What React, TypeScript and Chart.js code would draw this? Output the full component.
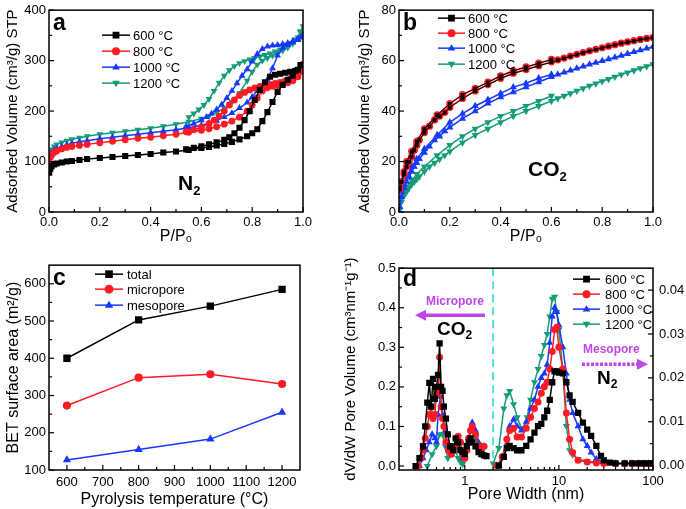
import React, { useEffect, useRef } from 'react';
import { Chart, registerables } from 'chart.js';
Chart.register(...registerables);

const FONT = "'Liberation Sans', Arial, Helvetica, sans-serif";

// ---------- shared series styling ----------
const tempLabels = ['600 °C', '800 °C', '1000 °C', '1200 °C'];
const seriesColors = ['#000000', '#ff1a24', '#1638ff', '#139c78'];
const seriesMarkers = ['rect', 'circle', 'triangle', 'down'];

// ---------- panel a: N2 isotherms (adsorption then desorption) ----------
const n2P600 = [0.001,0.005,0.01,0.02,0.03,0.05,0.07,0.09,0.12,0.15,0.2,0.25,0.3,0.35,0.4,0.45,0.5,0.55,0.6,0.63,0.66,0.69,0.72,0.75,0.78,0.8,0.82,0.84,0.86,0.88,0.9,0.92,0.94,0.96,0.98,0.99,
  0.97,0.95,0.93,0.91,0.89,0.87,0.85,0.83,0.81,0.79,0.77,0.75,0.73,0.71,0.69,0.66,0.63,0.6,0.57,0.54];
const n2V600 = [78,86,91,94,96,98,100,101,103,105,107,109,111,113,115,118,120,123,127,129,132,135,139,144,150,156,164,180,198,218,238,252,262,270,282,291,
  280,278,276,274,272,268,257,242,222,200,182,167,156,148,143,138,134,130,127,124];
const n2P800 = [0.001,0.005,0.01,0.02,0.03,0.05,0.07,0.09,0.12,0.15,0.2,0.25,0.3,0.35,0.4,0.45,0.5,0.55,0.6,0.63,0.66,0.69,0.72,0.75,0.78,0.8,0.82,0.84,0.86,0.88,0.9,0.92,0.94,0.96,0.98,0.99,1.0,
  0.99,0.97,0.95,0.93,0.91,0.89,0.87,0.85,0.83,0.81,0.79,0.77,0.75,0.73,0.71,0.69,0.67,0.65,0.63,0.6,0.57,0.54];
const n2V800 = [98,108,113,118,121,125,128,130,132,134,137,140,143,146,148,151,154,158,162,165,169,174,180,188,200,212,226,240,246,249,251,253,256,260,268,280,293,
  278,270,264,260,257,255,253,251,249,246,242,237,231,222,212,200,190,182,175,168,163,159];
const n2P1000 = [0.001,0.005,0.01,0.02,0.03,0.05,0.07,0.09,0.12,0.15,0.2,0.25,0.3,0.35,0.4,0.45,0.5,0.55,0.6,0.63,0.66,0.69,0.72,0.75,0.78,0.8,0.82,0.84,0.86,0.88,0.9,0.92,0.94,0.96,0.98,0.99,1.0,
  0.98,0.96,0.94,0.92,0.9,0.88,0.86,0.84,0.82,0.8,0.78,0.76,0.74,0.72,0.7,0.68,0.66,0.64,0.62,0.6,0.57,0.54];
const n2V1000 = [100,112,117,122,126,130,133,136,139,141,145,148,151,154,157,160,163,167,172,176,181,188,196,206,217,228,240,250,262,285,310,325,331,336,341,346,352,
  343,339,335,333,331,330,328,323,313,298,283,270,255,240,226,213,203,195,188,182,175,170];
const n2P1200 = [0.001,0.005,0.01,0.02,0.03,0.05,0.07,0.09,0.12,0.15,0.2,0.25,0.3,0.35,0.4,0.45,0.5,0.55,0.6,0.63,0.66,0.69,0.72,0.75,0.78,0.8,0.82,0.84,0.86,0.88,0.9,0.92,0.94,0.96,0.98,0.99,1.0,
  0.99,0.97,0.95,0.93,0.91,0.89,0.87,0.85,0.83,0.81,0.79,0.77,0.75,0.73,0.71,0.69,0.67,0.65,0.63,0.61,0.59,0.57,0.55];
const n2V1200 = [105,118,124,130,134,138,141,144,147,150,154,157,160,163,166,170,174,179,185,190,197,206,218,236,260,278,292,300,305,310,315,320,326,334,346,358,368,
  356,342,334,328,322,318,314,311,308,305,302,299,295,289,281,270,256,240,224,212,203,195,188];

// ---------- panel b: CO2 isotherms ----------
const co2PAds = [0.003,0.01,0.02,0.03,0.04,0.05,0.06,0.07,0.08,0.1,0.12,0.14,0.16,0.18,0.2,0.25,0.3,0.35,0.4,0.45,0.5,0.55,0.6,0.625,0.65,0.675,0.7,0.725,0.75,0.775,0.8,0.825,0.85,0.875,0.9,0.925,0.95,0.975,1.0];
const co2PDes = [0.6,0.55,0.5,0.45,0.4,0.35,0.3,0.25,0.2,0.15,0.1,0.07,0.05,0.03,0.02,0.01];
const co2Ads600 = [8.9,11.9,14.9,17.9,19.9,21.9,24.4,26.4,28.4,31.4,33.9,36.4,37.9,39.4,41.4,44.9,47.9,50.4,52.9,54.9,56.4,57.9,59.4,60.2,60.9,61.7,62.4,63.1,63.8,64.4,65,65.6,66.2,66.8,67.3,67.8,68.3,68.7,69.1];
const co2Des600 = [60.4,58.9,57.4,55.9,53.9,51.4,48.9,46.4,42.9,38.4,32.9,27.9,23.9,19.9,15.9,11.9];
const co2Ads800 = [9,12,15,18,20,22,24.5,26.5,28.5,31.5,34,36.5,38,39.5,41.5,45,48,50.5,53,55,56.5,58,59.5,60.3,61,61.8,62.5,63.2,63.9,64.5,65.1,65.7,66.3,66.9,67.4,67.9,68.4,68.8,69.2];
const co2Des800 = [60.5,59,57.5,56,54,51.5,49,46.5,43,38.5,33,28,24,20,16,12];
const co2Ads1000 = [2,6,9.5,12,14,16,18,19.5,21,23.5,26,28.5,30,32,33.5,37,40,43,45.5,47.5,49.5,51.5,53.5,54.5,55.3,56.1,56.9,57.7,58.5,59.2,59.9,60.6,61.3,62,62.7,63.4,64.1,64.8,65.5];
const co2Des1000 = [54.5,53,51,49.5,47,44.5,42,39,35.5,30.5,25,21,18,14,11,8];
const co2Ads1200 = [1,4,6.5,8,9.5,11,12,13,14,16,18,19.5,21,22.5,24,27.5,30.5,33,35.5,38,40,42,44,45,46,47,48,49,50,50.9,51.8,52.7,53.6,54.5,55.3,56.1,56.9,57.7,58.5];
const co2Des1200 = [46,44,42,40,38,35.5,33,30,26.5,22.5,18,15,12.5,10,8,6];

// ---------- panel c: BET surface area ----------
const betLabels = ['total', 'micropore', 'mesopore'];
const betTemps = [600, 800, 1000, 1200];
const betTotal = [400, 503, 540, 585];
const betMicro = [273, 348, 357, 331];
const betMeso = [127, 155, 183, 255];

// ---------- panel d: pore size distribution ----------
const microW600 = [0.3,0.33,0.36,0.38,0.4,0.42,0.44,0.46,0.48,0.5,0.52,0.54,0.56,0.58,0.6,0.63,0.66,0.7,0.75,0.8,0.85,0.9,0.95,1.0,1.05,1.1,1.15,1.2,1.3,1.4,1.5,1.6,1.7];
const microV600 = [0,0.02,0.05,0.1,0.16,0.21,0.15,0.22,0.17,0.2,0.23,0.31,0.2,0.19,0.15,0.12,0.08,0.05,0.04,0.07,0.06,0.04,0.035,0.03,0.05,0.06,0.07,0.06,0.05,0.035,0.03,0.027,0.025];
const microW800 = [0.32,0.34,0.36,0.38,0.4,0.42,0.44,0.46,0.48,0.5,0.52,0.54,0.56,0.58,0.6,0.63,0.67,0.72,0.78,0.85,0.9,0.95,1.0,1.05,1.1,1.15,1.2,1.3,1.4,1.5,1.6];
const microV800 = [0,0.02,0.04,0.07,0.1,0.13,0.15,0.12,0.13,0.18,0.19,0.275,0.15,0.12,0.1,0.06,0.04,0.03,0.05,0.075,0.06,0.03,0.02,0.04,0.07,0.09,0.1,0.08,0.05,0.045,0.05];
const microW1000 = [0.33,0.36,0.39,0.42,0.45,0.48,0.5,0.52,0.55,0.58,0.62,0.66,0.72,0.8,0.85,0.9,0.95,1.0,1.1,1.2,1.3,1.4,1.5,1.6];
const microV1000 = [0,0.02,0.04,0.06,0.08,0.07,0.06,0.13,0.175,0.13,0.09,0.05,0.03,0.05,0.06,0.04,0.02,0.03,0.07,0.11,0.09,0.06,0.05,0.05];
const microW1200 = [0.4,0.45,0.5,0.54,0.58,0.62,0.66,0.7,0.75,0.8,0.85,0.9,0.95,1.0,1.05,1.1,1.2,1.3,1.4,1.5,1.6];
const microV1200 = [0,0.03,0.05,0.08,0.08,0.05,0.02,0.03,0.05,0.04,0.02,0.01,0.005,0.02,0.05,0.07,0.1,0.07,0.05,0.045,0.045];

const mesoW600 = [2.3,2.6,2.8,3.0,3.3,3.6,4.0,4.5,5,5.5,6,6.5,7,7.5,8,8.5,9,9.5,10,11,12,13,14,16,18,20,22,25,28,30,35,40,50,60,70,80,90,100];
const mesoV600 = [0,0.002,0.004,0.0045,0.004,0.0035,0.0035,0.0045,0.006,0.0075,0.009,0.0095,0.011,0.0125,0.015,0.019,0.0215,0.0215,0.0212,0.021,0.019,0.016,0.0145,0.012,0.0098,0.0082,0.0068,0.0045,0.0022,0.0012,0.0007,0.0005,0.0005,0.0005,0.0005,0.0005,0.0005,0.0005];
const mesoW800 = [2.2,2.5,2.8,3.0,3.3,3.6,4.0,4.5,5,5.5,6,6.5,7,7.5,8,8.5,9,9.5,10,11,12,13,14,16,20,25,30,40,50,60,70,80,90,100];
const mesoV800 = [0,0.002,0.006,0.008,0.0085,0.0065,0.0065,0.0085,0.011,0.013,0.0145,0.0165,0.018,0.019,0.022,0.026,0.031,0.0315,0.027,0.022,0.012,0.006,0.003,0.0012,0.0008,0.0006,0.0005,0.0005,0.0005,0.0005,0.0005,0.0005,0.0005,0.0005];
const mesoW1000 = [2.3,2.6,2.8,3.0,3.3,3.6,4.0,4.5,5,5.5,6,6.5,7,7.5,8,8.5,9,9.5,10,11,12,13,14,16,18,20,22,25,30,40,50,60,70,80,90,100];
const mesoV1000 = [0,0.002,0.005,0.009,0.0105,0.009,0.008,0.01,0.013,0.015,0.018,0.02,0.021,0.023,0.028,0.034,0.036,0.035,0.032,0.027,0.021,0.015,0.012,0.009,0.006,0.0045,0.003,0.0015,0.0008,0.0005,0.0005,0.0005,0.0005,0.0005,0.0005,0.0005];
const mesoW1200 = [2.0,2.3,2.6,2.8,3.0,3.3,3.6,4.0,4.3,4.6,5,5.5,6,6.5,7,7.5,8,8.5,9,9.5,10,11,12,13,14,16,20,30,40,50,60,70,80,90,100];
const mesoV1200 = [0.0005,0.004,0.013,0.016,0.017,0.014,0.011,0.0085,0.0085,0.011,0.015,0.019,0.022,0.025,0.0275,0.03,0.034,0.038,0.0385,0.035,0.031,0.022,0.009,0.0035,0.0025,0.0015,0.001,0.0006,0.0005,0.0005,0.0005,0.0005,0.0005,0.0005,0.0005];

// ---------- tick values ----------
const pTicks = [0, 0.2, 0.4, 0.6, 0.8, 1.0];
const n2VolTicks = [0, 100, 200, 300, 400];
const co2VolTicks = [0, 20, 40, 60, 80];
const tempTicks = [600, 700, 800, 900, 1000, 1100, 1200];
const betTicks = [100, 200, 300, 400, 500, 600];
const widthTicks = [1, 10, 100];
const microTicks = [0, 0.1, 0.2, 0.3, 0.4, 0.5];
const mesoTicks = [0, 0.01, 0.02, 0.03, 0.04];
const poreDivider = 2;

// ---------- helpers ----------
type Pt = { x: number; y: number };
const zip = (xs: number[], ys: number[]): Pt[] => xs.map((x, i) => ({ x, y: ys[i] }));

function lineDs(data: Pt[], i: number, r: number, extra: any = {}) {
  const m = seriesMarkers[i];
  const rr = m === 'rect' ? r * 1.2 : m === 'circle' ? r * 0.95 : r * 1.1;
  return {
    data,
    borderColor: seriesColors[i],
    backgroundColor: seriesColors[i],
    borderWidth: 1.5,
    pointStyle: m === 'down' ? 'triangle' : m,
    pointRotation: m === 'down' ? 180 : 0,
    pointRadius: rr,
    pointHoverRadius: rr,
    pointBorderWidth: 0,
    tension: 0,
    fill: false,
    ...extra,
  };
}

function axis(o: {
  pos: 'left' | 'right' | 'bottom';
  type?: string;
  min: number;
  max: number;
  ticks: number[];
  fmt: (v: number) => string;
  title?: string;
  titleSize?: number;
  titlePad?: any;
  tickPad: number;
  size: number;
}) {
  return {
    type: o.type || 'linear',
    position: o.pos,
    min: o.min,
    max: o.max,
    afterBuildTicks: (s: any) => {
      s.ticks = o.ticks.map((v) => ({ value: v }));
    },
    afterFit: (s: any) => {
      if (o.pos === 'bottom') s.height = o.size;
      else s.width = o.size;
    },
    grid: { display: false, drawTicks: false },
    border: { display: false },
    ticks: {
      autoSkip: false,
      maxRotation: 0,
      minRotation: 0,
      padding: o.tickPad,
      color: '#000',
      font: { family: FONT, size: 13, lineHeight: 1.1 },
      callback: (v: any) => o.fmt(Number(v)),
    },
    title: {
      display: !!o.title,
      text: o.title || '',
      color: '#000',
      font: { family: FONT, size: o.titleSize || 15 },
      padding: o.titlePad || 0,
    },
  };
}

function drawMarker(ctx: CanvasRenderingContext2D, m: string, x: number, y: number, r: number, color: string) {
  ctx.save();
  ctx.fillStyle = color;
  ctx.beginPath();
  if (m === 'rect') {
    const s = r * 0.85;
    ctx.rect(x - s, y - s, 2 * s, 2 * s);
  } else if (m === 'circle') {
    ctx.arc(x, y, r, 0, Math.PI * 2);
  } else if (m === 'triangle') {
    ctx.moveTo(x, y - r);
    ctx.lineTo(x + r * 0.95, y + r * 0.6);
    ctx.lineTo(x - r * 0.95, y + r * 0.6);
    ctx.closePath();
  } else {
    ctx.moveTo(x, y + r);
    ctx.lineTo(x + r * 0.95, y - r * 0.6);
    ctx.lineTo(x - r * 0.95, y - r * 0.6);
    ctx.closePath();
  }
  ctx.fill();
  ctx.restore();
}

type Part = [string, number, number, boolean];
function drawRich(ctx: CanvasRenderingContext2D, x: number, y: number, parts: Part[], color: string) {
  ctx.save();
  let cx = x;
  ctx.fillStyle = color;
  ctx.textBaseline = 'alphabetic';
  ctx.textAlign = 'left';
  for (const [t, size, dy, bold] of parts) {
    ctx.font = `${bold ? 'bold ' : ''}${size}px ${FONT}`;
    ctx.fillText(t, cx, y + dy);
    cx += ctx.measureText(t).width;
  }
  ctx.restore();
}

function drawArrow(ctx: CanvasRenderingContext2D, x1: number, y: number, x2: number, color: string, dash: number[]) {
  const dir = Math.sign(x2 - x1);
  const hl = 11;
  const hh = 5.5;
  ctx.save();
  ctx.strokeStyle = color;
  ctx.lineWidth = 3.5;
  ctx.setLineDash(dash);
  ctx.beginPath();
  ctx.moveTo(x1, y);
  ctx.lineTo(x2 - dir * hl, y);
  ctx.stroke();
  ctx.setLineDash([]);
  ctx.fillStyle = color;
  ctx.beginPath();
  ctx.moveTo(x2, y);
  ctx.lineTo(x2 - dir * hl, y - hh);
  ctx.lineTo(x2 - dir * hl, y + hh);
  ctx.closePath();
  ctx.fill();
  ctx.restore();
}

type FrameAxis = { id: string; side: 'left' | 'right' | 'bottom'; minor: 'lin' | 'log' };
function drawFrame(chart: any, axes: FrameAxis[]) {
  const ctx: CanvasRenderingContext2D = chart.ctx;
  const a = chart.chartArea;
  ctx.save();
  ctx.strokeStyle = '#000';
  ctx.lineWidth = 1.5;
  ctx.strokeRect(a.left, a.top, a.right - a.left, a.bottom - a.top);
  ctx.lineWidth = 1.2;
  for (const ax of axes) {
    const s = chart.scales[ax.id];
    const major: number[] = s.ticks.map((t: any) => t.value);
    const minor: number[] = [];
    if (ax.minor === 'lin' && major.length > 1) {
      const step = major[1] - major[0];
      for (let v = major[0] - step / 2; v < s.max - 1e-9; v += step) {
        if (v > s.min + 1e-9) minor.push(v);
      }
    } else if (ax.minor === 'log') {
      for (let d = Math.floor(Math.log10(s.min)); d <= Math.ceil(Math.log10(s.max)); d++) {
        for (let m = 2; m <= 9; m++) {
          const v = m * Math.pow(10, d);
          if (v > s.min && v < s.max) minor.push(v);
        }
      }
    }
    const draw = (v: number, len: number) => {
      const p = s.getPixelForValue(v);
      ctx.beginPath();
      if (ax.side === 'bottom') {
        ctx.moveTo(p, a.bottom);
        ctx.lineTo(p, a.bottom - len);
      } else if (ax.side === 'left') {
        ctx.moveTo(a.left, p);
        ctx.lineTo(a.left + len, p);
      } else {
        ctx.moveTo(a.right, p);
        ctx.lineTo(a.right - len, p);
      }
      ctx.stroke();
    };
    major.forEach((v) => draw(v, 5));
    minor.forEach((v) => draw(v, 3));
  }
  ctx.restore();
}

type LegendCfg = { labels: string[]; x0: number; x1: number; tx: number; rows: number[]; r: number; font: number };
function drawLegend(chart: any, L: LegendCfg) {
  const ctx: CanvasRenderingContext2D = chart.ctx;
  const a = chart.chartArea;
  ctx.save();
  L.labels.forEach((label, i) => {
    const y = a.top + L.rows[i];
    ctx.strokeStyle = seriesColors[i];
    ctx.lineWidth = 1.5;
    ctx.beginPath();
    ctx.moveTo(a.left + L.x0, y);
    ctx.lineTo(a.left + L.x1, y);
    ctx.stroke();
    drawMarker(ctx, seriesMarkers[i], a.left + (L.x0 + L.x1) / 2, y, L.r, seriesColors[i]);
    ctx.fillStyle = '#000';
    ctx.font = `${L.font}px ${FONT}`;
    ctx.textBaseline = 'middle';
    ctx.textAlign = 'left';
    ctx.fillText(label, a.left + L.tx, y + 1);
  });
  ctx.restore();
}

function panelLetter(chart: any, letter: string, baseline: number) {
  const a = chart.chartArea;
  drawRich(chart.ctx, a.left + 4, a.top + baseline, [[letter, 23, 0, true]], '#000');
}

const baseOptions = (padding: any, scales: any) => ({
  responsive: false,
  animation: false,
  devicePixelRatio: 1,
  events: [],
  layout: { padding },
  plugins: { legend: { display: false }, tooltip: { enabled: false } },
  scales,
});

// ---------- chart builders ----------
function buildA(): any {
  const sets = [
    zip(n2P600, n2V600),
    zip(n2P800, n2V800),
    zip(n2P1000, n2V1000),
    zip(n2P1200, n2V1200),
  ];
  return {
    type: 'line',
    data: { datasets: sets.map((d, i) => lineDs(d, i, 3.6)) },
    options: baseOptions({ left: 0, right: 40, top: 7, bottom: 0 }, {
      x: axis({ pos: 'bottom', min: 0, max: 1, ticks: pTicks, fmt: (v) => v.toFixed(1), title: 'P/P₀', titleSize: 16, titlePad: { bottom: 9 }, tickPad: 3, size: 43 }),
      y: axis({ pos: 'left', min: 0, max: 400, ticks: n2VolTicks, fmt: (v) => String(v), title: 'Adsorbed Volume (cm³/g) STP', titleSize: 15, titlePad: { top: 4 }, tickPad: 3, size: 49 }),
    }),
    plugins: [{
      id: 'decorA',
      afterDraw(chart: any) {
        drawFrame(chart, [{ id: 'x', side: 'bottom', minor: 'lin' }, { id: 'y', side: 'left', minor: 'lin' }]);
        drawLegend(chart, { labels: tempLabels, x0: 53, x1: 81, tx: 84, rows: [25, 41, 57, 73], r: 4, font: 13 });
        panelLetter(chart, 'a', 20);
        const a = chart.chartArea;
        drawRich(chart.ctx, a.left + 129, a.top + 180, [['N', 21, 0, true], ['2', 13, 5, true]], '#000');
      },
    }],
  };
}

function buildB(): any {
  const ads = [co2Ads600, co2Ads800, co2Ads1000, co2Ads1200];
  const des = [co2Des600, co2Des800, co2Des1000, co2Des1200];
  const datasets: any[] = [];
  for (let i = 0; i < 4; i++) {
    // the 600 °C curve lies underneath the 800 °C curve in the reference
    const extra = i === 0 ? { pointRadius: 2.6, pointHoverRadius: 2.6, borderWidth: 1 } : {};
    datasets.push(lineDs(zip(co2PAds, ads[i]), i, 3.8, extra));
    datasets.push(lineDs(zip(co2PDes, des[i]), i, 3.8, extra));
  }
  return {
    type: 'line',
    data: { datasets },
    options: baseOptions({ left: 0, right: 33, top: 7, bottom: 0 }, {
      x: axis({ pos: 'bottom', min: 0, max: 1, ticks: pTicks, fmt: (v) => v.toFixed(1), title: 'P/P₀', titleSize: 16, titlePad: { bottom: 9 }, tickPad: 3, size: 43 }),
      y: axis({ pos: 'left', min: 0, max: 80, ticks: co2VolTicks, fmt: (v) => String(v), title: 'Adsorbed Volume (cm³/g) STP', titleSize: 15, titlePad: { top: 13 }, tickPad: 3, size: 56 }),
    }),
    plugins: [{
      id: 'decorB',
      afterDraw(chart: any) {
        drawFrame(chart, [{ id: 'x', side: 'bottom', minor: 'lin' }, { id: 'y', side: 'left', minor: 'lin' }]);
        drawLegend(chart, { labels: tempLabels, x0: 39, x1: 66, tx: 69, rows: [8, 23, 38, 54], r: 4, font: 13 });
        panelLetter(chart, 'b', 20);
        const a = chart.chartArea;
        drawRich(chart.ctx, a.left + 129, a.top + 166, [['CO', 21, 0, true], ['2', 13, 5, true]], '#000');
      },
    }],
  };
}

function buildC(): any {
  const sets = [zip(betTemps, betTotal), zip(betTemps, betMicro), zip(betTemps, betMeso)];
  return {
    type: 'line',
    data: { datasets: sets.map((d, i) => lineDs(d, i, 4.3, { borderWidth: 1.5 })) },
    options: baseOptions({ left: 0, right: 40, top: 10, bottom: 0 }, {
      x: axis({ pos: 'bottom', min: 550, max: 1250, ticks: tempTicks, fmt: (v) => String(v), title: 'Pyrolysis temperature (°C)', titleSize: 16, titlePad: { bottom: 0 }, tickPad: 5, size: 39 }),
      y: axis({ pos: 'left', min: 100, max: 650, ticks: betTicks, fmt: (v) => String(v), title: 'BET surface area (m²/g)', titleSize: 16, titlePad: { top: 4 }, tickPad: 3, size: 49 }),
    }),
    plugins: [{
      id: 'decorC',
      afterDraw(chart: any) {
        drawFrame(chart, [{ id: 'x', side: 'bottom', minor: 'lin' }, { id: 'y', side: 'left', minor: 'lin' }]);
        drawLegend(chart, { labels: betLabels, x0: 46, x1: 74, tx: 78, rows: [9, 24, 40], r: 4.5, font: 13 });
        panelLetter(chart, 'c', 20);
      },
    }],
  };
}

function buildD(): any {
  const micro = [zip(microW600, microV600), zip(microW800, microV800), zip(microW1000, microV1000), zip(microW1200, microV1200)];
  const meso = [zip(mesoW600, mesoV600), zip(mesoW800, mesoV800), zip(mesoW1000, mesoV1000), zip(mesoW1200, mesoV1200)];
  const datasets: any[] = [];
  for (let i = 0; i < 4; i++) datasets.push(lineDs(micro[i], i, 3.7, { yAxisID: 'y' }));
  for (let i = 0; i < 4; i++) datasets.push(lineDs(meso[i], i, 3.7, { yAxisID: 'y2' }));
  return {
    type: 'line',
    data: { datasets },
    options: baseOptions({ left: 0, right: 0, top: 10, bottom: 0 }, {
      x: axis({ pos: 'bottom', type: 'logarithmic', min: 0.2, max: 100, ticks: widthTicks, fmt: (v) => String(v), title: 'Pore Width (nm)', titleSize: 16, titlePad: { bottom: 5 }, tickPad: 4, size: 39 }),
      y: axis({ pos: 'left', min: -0.01, max: 0.5, ticks: microTicks, fmt: (v) => v.toFixed(1), title: 'dV/dW Pore Volume (cm³nm⁻¹g⁻¹)', titleSize: 15, titlePad: { top: 2 }, tickPad: 3, size: 59 }),
      y2: axis({ pos: 'right', min: -0.001, max: 0.045, ticks: mesoTicks, fmt: (v) => v.toFixed(2), tickPad: 6, size: 33 }),
    }),
    plugins: [{
      id: 'decorD',
      beforeDatasetsDraw(chart: any) {
        const ctx: CanvasRenderingContext2D = chart.ctx;
        const a = chart.chartArea;
        const x = chart.scales.x.getPixelForValue(poreDivider);
        ctx.save();
        ctx.strokeStyle = '#4fe3d2';
        ctx.lineWidth = 2;
        ctx.setLineDash([8, 5]);
        ctx.beginPath();
        ctx.moveTo(x, a.top);
        ctx.lineTo(x, a.bottom);
        ctx.stroke();
        ctx.restore();
      },
      afterDraw(chart: any) {
        drawFrame(chart, [
          { id: 'x', side: 'bottom', minor: 'log' },
          { id: 'y', side: 'left', minor: 'lin' },
          { id: 'y2', side: 'right', minor: 'lin' },
        ]);
        drawLegend(chart, { labels: tempLabels, x0: 174, x1: 201, tx: 206, rows: [11, 26, 41, 56], r: 4, font: 13 });
        panelLetter(chart, 'd', 18);
        const ctx: CanvasRenderingContext2D = chart.ctx;
        const a = chart.chartArea;
        const purple = '#c046e6';
        drawRich(ctx, a.left + 27, a.top + 37, [['Micropore', 12, 0, true]], purple);
        drawArrow(ctx, a.left + 86, a.top + 47, a.left + 16, purple, []);
        drawRich(ctx, a.left + 38, a.top + 67, [['CO', 19, 0, true], ['2', 12, 4, true]], '#000');
        drawRich(ctx, a.left + 184, a.top + 85, [['Mesopore', 12, 0, true]], purple);
        drawArrow(ctx, a.left + 183, a.top + 96, a.left + 249, purple, [3, 1.5]);
        drawRich(ctx, a.left + 198, a.top + 116, [['N', 19, 0, true], ['2', 12, 4, true]], '#000');
      },
    }],
  };
}

function Panel(props: { left: number; top: number; width: number; height: number; build: () => any }) {
  const ref = useRef<HTMLCanvasElement>(null);
  useEffect(() => {
    const chart = new Chart(ref.current as HTMLCanvasElement, props.build());
    return () => chart.destroy();
  }, []);
  return (
    <div style={{ position: 'absolute', left: props.left, top: props.top, width: props.width, height: props.height }}>
      <canvas ref={ref} width={props.width} height={props.height} style={{ width: props.width, height: props.height, display: 'block' }} />
    </div>
  );
}

export default function App() {
  return (
    <div style={{ position: 'fixed', left: 0, top: 0, width: 686, height: 509, background: '#fff', overflow: 'hidden' }}>
      <Panel left={0} top={0} width={343} height={255} build={buildA} />
      <Panel left={343} top={0} width={343} height={255} build={buildB} />
      <Panel left={0} top={255} width={340} height={254} build={buildC} />
      <Panel left={340} top={255} width={346} height={254} build={buildD} />
    </div>
  );
}
